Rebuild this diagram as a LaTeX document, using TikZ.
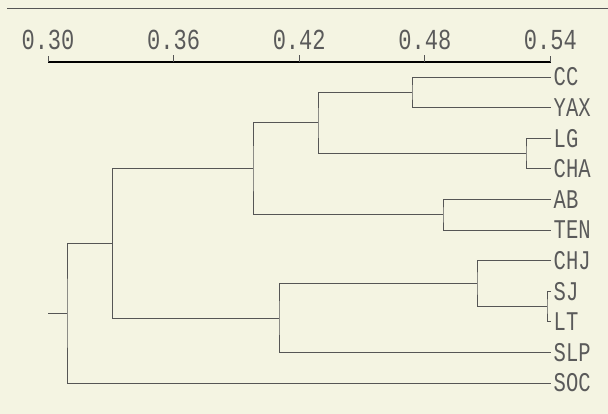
\documentclass[tikz,border=0pt]{standalone}
\usepackage{fontspec}
\newfontfamily\plotfont{Liberation Mono}[FakeStretch=0.76]
\definecolor{bg}{HTML}{F4F4E2}
\definecolor{ln}{HTML}{555555}
\definecolor{tx}{HTML}{5A5A5A}
\tikzset{
  branch/.style={draw=ln, line width=0.9pt},
  leaf/.style={anchor=west, inner xsep=2.5pt, inner ysep=0pt, text=tx, font=\plotfont\fontsize{27}{27}\selectfont},
  ticklab/.style={anchor=base, inner sep=0pt, text=tx, font=\plotfont\fontsize{29}{29}\selectfont},
}
\begin{document}
\begin{tikzpicture}[x=1pt,y=-1pt]
\fill[bg] (0,0) rectangle (608,414);
\useasboundingbox (0,0) rectangle (608,414);
% top rule
\coordinate (r1) at (7,9);
\coordinate (r2) at (608,9);
\draw[ln, line width=1pt] (r1) -- (r2);
% axis
\coordinate (a0) at (48,62);
\coordinate (a1) at (551,62);
\draw[black, line width=2pt] (a0) -- (a1);
\foreach \v/\x in {0.30/48, 0.36/173.6, 0.42/299.2, 0.48/424.8, 0.54/550.4}{
  \node[ticklab] (t\x) at (\x,50) {\v};
}
\draw[ln, line width=0.9pt] (48,62) -- (48,56);
\draw[ln, line width=0.9pt] (550.4,62) -- (550.4,56);
\foreach \x in {173.6,299.2,424.8}{
  \draw[ln, line width=0.9pt] (\x,62) -- (\x,55);
}
% leaves
\foreach \n/\t/\i in {cc/CC/0, yax/YAX/1, lg/LG/2, cha/CHA/3, ab/AB/4, ten/TEN/5, chj/CHJ/6, sj/SJ/7, lt/LT/8, slp/SLP/9, soc/SOC/10}{
  \node[leaf] (\n) at (551, 77+30.6*\i) {\t};
}
% internal nodes
\coordinate (n1) at (412, 92.3);
\coordinate (n2) at (526, 153.5);
\coordinate (n3) at (318, 122.9);
\coordinate (n4) at (443, 214.7);
\coordinate (n5) at (253, 168.8);
\coordinate (n6) at (547, 306.5);
\coordinate (n7) at (477, 283.6);
\coordinate (n8) at (279, 318);
\coordinate (n9) at (112.5, 243.4);
\coordinate (n10) at (67, 313.2);
\coordinate (root) at (48, 313.2);
% branches
\draw[branch] (cc.west) -| (n1) |- (yax.west);
\draw[branch] (lg.west) -| (n2) |- (cha.west);
\draw[branch] (n1) -| (n3) |- (n2);
\draw[branch] (ab.west) -| (n4) |- (ten.west);
\draw[branch] (n3) -| (n5) |- (n4);
\draw[branch] (sj.west) -| (n6) |- (lt.west);
\draw[branch] (chj.west) -| (n7) |- (n6);
\draw[branch] (n7) -| (n8) |- (slp.west);
\draw[branch] (n5) -| (n9) |- (n8);
\draw[branch] (n9) -| (n10) |- (soc.west);
\draw[branch] (root) -- (n10);
\end{tikzpicture}
\end{document}
